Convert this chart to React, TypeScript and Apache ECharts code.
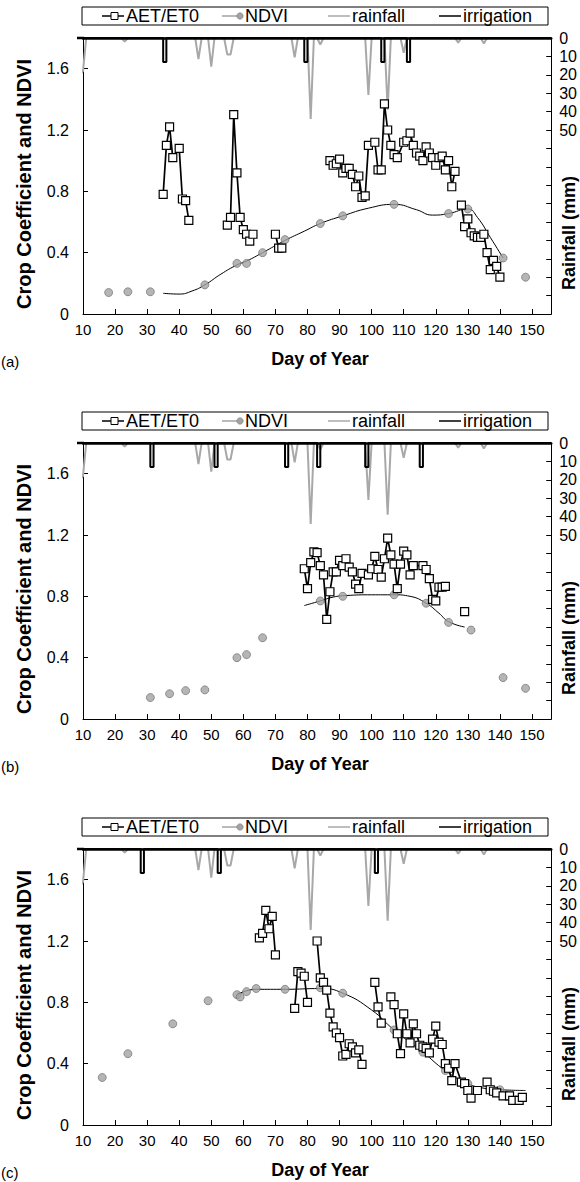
import React, { useEffect, useRef } from 'react';
import * as echarts from 'echarts';

const FONT = "'Liberation Sans', Arial, Helvetica, sans-serif";

// ---------- shared axis ticks ----------
const dayMin = 10;
const dayMax = 156;
const dayInterval = 10;
const coefMax = 1.8;
const coefInterval = 0.4;
const rainMax = 150;
const rainInterval = 10;
const rainLabelLimit = 50;
const irrigationDepth = 13;

// ---------- rainfall (mm), same weather for all three panels ----------
const rainfall: [number, number][] = [
  [9, 20], [10, 18], [11, 0],
  [22, 0], [23, 2], [24, 0],
  [45, 0], [46, 11.5], [47, 0],
  [49, 0], [50, 15.5], [51, 0],
  [54, 0], [55, 9], [56, 9], [57, 0],
  [75, 0], [76, 10.5], [77, 0],
  [80, 0], [81, 44], [82, 0],
  [83, 0], [84, 3.5], [85, 0],
  [98, 0], [99, 31], [100, 0],
  [104, 0], [105, 39], [106, 0],
  [109, 0], [110, 8], [111, 0],
  [126, 0], [127, 2.5], [128, 0],
  [134, 0], [135, 3], [136, 0],
  [156, 0],
];

// ---------- panel (a) ----------
const aetA: [number, number][][] = [
  [[35, 0.78], [36, 1.10], [37, 1.22], [38, 1.02], [40, 1.08], [41, 0.75], [42, 0.74], [43, 0.61]],
  [[55, 0.58], [56, 0.63], [57, 1.30], [58, 0.92], [59, 0.63], [60, 0.55], [61, 0.52], [62, 0.475], [63, 0.52]],
  [[70, 0.52], [71, 0.43], [72, 0.43]],
  [[87, 1.00], [88, 0.97], [89, 0.98], [90, 1.01], [91, 0.92], [92, 0.95], [93, 0.95], [94, 0.91], [95, 0.83],
   [96, 0.90], [97, 0.76], [98, 0.77], [99, 1.10], [101, 1.12], [102, 0.94], [103, 0.94], [104, 1.37], [105, 1.20],
   [106, 1.10], [107, 1.04], [108, 1.02], [110, 1.12], [111, 1.13], [112, 1.18], [113, 1.10], [114, 1.05],
   [115, 1.03], [116, 1.00], [117, 1.09], [118, 1.05], [119, 1.02], [120, 0.97], [121, 1.02], [122, 1.03],
   [123, 0.94], [124, 1.00], [125, 0.83], [126, 0.93]],
  [[128, 0.71], [129, 0.57], [130, 0.62], [131, 0.53], [132, 0.51], [133, 0.50], [134, 0.50], [135, 0.52],
   [136, 0.40], [137, 0.29], [138, 0.35], [139, 0.31], [140, 0.24]],
];
const ndviA: [number, number][] = [
  [18, 0.14], [24, 0.145], [31, 0.145], [48, 0.19], [58, 0.33], [61, 0.33], [66, 0.40], [73, 0.485],
  [84, 0.59], [91, 0.64], [107, 0.715], [124, 0.655], [130, 0.685], [141, 0.365], [148, 0.24],
];
const fitA: [number, number][] = [
  [35, 0.135], [40, 0.13], [44, 0.15], [48, 0.19], [53, 0.26], [58, 0.32], [61, 0.345], [66, 0.40],
  [73, 0.48], [79, 0.54], [84, 0.59], [91, 0.64], [99, 0.69], [107, 0.715], [114, 0.68], [119, 0.645],
  [124, 0.655], [130, 0.685], [133, 0.63], [137, 0.50], [141, 0.365],
];
const irrigationA = [35, 79, 103, 111];

// ---------- panel (b) ----------
const aetB: [number, number][][] = [
  [[79, 0.98], [80, 0.85], [81, 1.02], [82, 1.09], [83, 1.085], [84, 1.00], [85, 0.94], [86, 0.65], [87, 0.83],
   [88, 0.96], [89, 0.96], [90, 1.035], [91, 1.00], [92, 1.045], [93, 0.99], [94, 0.96], [95, 0.88], [96, 0.85],
   [97, 0.95], [99, 0.94], [100, 0.98], [101, 1.06], [102, 0.975], [103, 0.925], [104, 1.045], [105, 1.18],
   [106, 1.07], [107, 1.01], [108, 0.85], [109, 1.01], [110, 1.095], [111, 1.07], [112, 0.94], [113, 1.00],
   [116, 1.00], [117, 0.975], [118, 0.915], [119, 0.78], [120, 0.77], [121, 0.86], [122, 0.86], [123, 0.865]],
  [[129, 0.70]],
];
const ndviB: [number, number][] = [
  [31, 0.14], [37, 0.165], [42, 0.185], [48, 0.19], [58, 0.40], [61, 0.42], [66, 0.53], [84, 0.77],
  [91, 0.80], [107, 0.81], [117, 0.755], [124, 0.63], [131, 0.58], [141, 0.27], [148, 0.20],
];
const fitB: [number, number][] = [
  [79, 0.74], [84, 0.77], [88, 0.795], [92, 0.805], [100, 0.81], [107, 0.81], [112, 0.80], [117, 0.755],
  [121, 0.69], [124, 0.635], [129, 0.60],
];
const irrigationB = [31, 51, 73, 83, 98, 115];

// ---------- panel (c) ----------
const aetC: [number, number][][] = [
  [[65, 1.22], [66, 1.25], [67, 1.40], [68, 1.28], [69, 1.36], [70, 1.11]],
  [[76, 0.76], [77, 1.00], [78, 0.99], [79, 0.97], [80, 0.80]],
  [[83, 1.20], [84, 0.96], [85, 0.93], [86, 0.88], [87, 0.73], [88, 0.64], [89, 0.60], [90, 0.57], [91, 0.45],
   [92, 0.46], [93, 0.53], [94, 0.51], [95, 0.47], [96, 0.49], [97, 0.395]],
  [[101, 0.93], [102, 0.77], [103, 0.665]],
  [[106, 0.835], [107, 0.785], [108, 0.595], [109, 0.465], [110, 0.725], [111, 0.595], [112, 0.535], [113, 0.66],
   [114, 0.595], [115, 0.52], [116, 0.51], [117, 0.50], [118, 0.47], [119, 0.56], [120, 0.645], [121, 0.54],
   [122, 0.525], [123, 0.40], [124, 0.37], [125, 0.29], [126, 0.40], [128, 0.28], [129, 0.27], [130, 0.225],
   [131, 0.175], [133, 0.225]],
  [[136, 0.28], [137, 0.23], [138, 0.22], [139, 0.21], [141, 0.19], [143, 0.19], [144, 0.16], [146, 0.16], [147, 0.18]],
];
const ndviC: [number, number][] = [
  [16, 0.31], [24, 0.465], [38, 0.66], [49, 0.81], [58, 0.85], [59, 0.835], [61, 0.87], [64, 0.89],
  [73, 0.885], [84, 0.895], [91, 0.86], [107, 0.62], [116, 0.475], [123, 0.355], [130, 0.27], [140, 0.23],
];
const fitC: [number, number][] = [
  [58, 0.85], [64, 0.885], [73, 0.885], [84, 0.89], [91, 0.86], [100, 0.75], [107, 0.62], [116, 0.475],
  [123, 0.355], [130, 0.27], [135, 0.24], [140, 0.23], [148, 0.225],
];
const irrigationC = [28, 52, 101];

const panelLetters = ['(a)', '(b)', '(c)'];
const legendNames = ['AET/ET0', 'NDVI', 'rainfall', 'irrigation'];

const panels = [
  { aet: aetA, ndvi: ndviA, fit: fitA, irr: irrigationA },
  { aet: aetB, ndvi: ndviB, fit: fitB, irr: irrigationB },
  { aet: aetC, ndvi: ndviC, fit: fitC, irr: irrigationC },
];

// layout
const PLOT_TOPS = [38, 443, 849];
const PLOT_LEFT = 83;
const PLOT_W = 469;
const PLOT_H = 276;

function irrigationLine(days: number[]): [number, number][] {
  const out: [number, number][] = [[dayMin, 0]];
  days.forEach((d) => {
    out.push([d, 0], [d, irrigationDepth], [d + 1, irrigationDepth], [d + 1, 0]);
  });
  out.push([dayMax, 0]);
  return out;
}

function buildOption() {
  const grid: any[] = [];
  const xAxis: any[] = [];
  const yAxis: any[] = [];
  const series: any[] = [];
  const graphic: any[] = [];

  panels.forEach((p, i) => {
    const T = PLOT_TOPS[i];
    grid.push({ left: PLOT_LEFT, top: T, width: PLOT_W, height: PLOT_H, containLabel: false });

    xAxis.push({
      type: 'value', gridIndex: i, min: dayMin, max: dayMax, interval: dayInterval, position: 'bottom',
      axisLine: { show: true, onZero: false, lineStyle: { color: '#000', width: 1 } },
      axisTick: { show: true, inside: true, length: 5, lineStyle: { color: '#000' } },
      axisLabel: {
        color: '#000', fontSize: 15, fontFamily: FONT, margin: 8,
        formatter: (v: number) => (v % dayInterval === 0 && v <= 150 ? String(v) : ''),
      },
      splitLine: { show: false },
    });
    xAxis.push({
      type: 'value', gridIndex: i, min: dayMin, max: dayMax, position: 'top', z: 10,
      axisLine: { show: true, onZero: false, lineStyle: { color: '#000', width: 2.5 } },
      axisTick: { show: false }, axisLabel: { show: false }, splitLine: { show: false },
    });

    yAxis.push({
      type: 'value', gridIndex: i, min: 0, max: coefMax, interval: coefInterval, position: 'left',
      axisLine: { show: true, onZero: false, lineStyle: { color: '#000', width: 1 } },
      axisTick: { show: true, inside: true, length: 5, lineStyle: { color: '#000' } },
      axisLabel: {
        color: '#000', fontSize: 16, fontFamily: FONT, margin: 14,
        formatter: (v: number) => (v > 1.7 ? '' : v === 0 ? '0' : v.toFixed(1)),
      },
      splitLine: { show: false },
    });
    yAxis.push({
      type: 'value', gridIndex: i, min: 0, max: rainMax, interval: rainInterval, inverse: true, position: 'right',
      axisLine: { show: true, onZero: false, lineStyle: { color: '#000', width: 1 } },
      axisTick: { show: true, inside: true, length: 5, lineStyle: { color: '#000' } },
      axisLabel: {
        color: '#000', fontSize: 16, fontFamily: FONT, margin: 8,
        formatter: (v: number) => (v <= rainLabelLimit ? String(v) : ''),
      },
      splitLine: { show: false },
    });

    const xi = 2 * i;
    const yl = 2 * i;
    const yr = 2 * i + 1;

    series.push({
      type: 'line', name: 'rainfall', xAxisIndex: xi, yAxisIndex: yr, data: rainfall,
      symbol: 'none', lineStyle: { color: '#a8a8a8', width: 2 }, z: 2,
    });
    series.push({
      type: 'line', name: 'irrigation', xAxisIndex: xi, yAxisIndex: yr, data: irrigationLine(p.irr),
      symbol: 'none', lineStyle: { color: '#000', width: 2 }, z: 3,
    });
    series.push({
      type: 'line', name: 'NDVI fit', xAxisIndex: xi, yAxisIndex: yl, data: p.fit, smooth: true,
      symbol: 'none', lineStyle: { color: '#000', width: 1 }, z: 4,
    });
    series.push({
      type: 'scatter', name: 'NDVI', xAxisIndex: xi, yAxisIndex: yl, data: p.ndvi,
      symbol: 'circle', symbolSize: 8,
      itemStyle: { color: '#a3a3a3', borderColor: '#666', borderWidth: 0.8 }, z: 5,
    });
    p.aet.forEach((c) => {
      series.push({
        type: 'line', name: 'AET/ET0', xAxisIndex: xi, yAxisIndex: yl, data: c,
        symbol: 'rect', symbolSize: 8, showSymbol: true,
        itemStyle: { color: '#fff', borderColor: '#000', borderWidth: 1.2 },
        lineStyle: { color: '#000', width: 1.7 }, z: 6,
      });
    });

    // small extension of the top (rainfall zero) line beyond the left axis
    graphic.push({ type: 'line', shape: { x1: 77, y1: T, x2: 84, y2: T }, style: { stroke: '#000', lineWidth: 2.5 } });

    // legend box
    const ly = T - 22;
    graphic.push({
      type: 'rect', shape: { x: 82, y: T - 31, width: 466, height: 18 },
      style: { fill: '#fff', stroke: '#000', lineWidth: 1 },
    });
    const textStyle = (text: string, x: number) => ({
      type: 'text', x, y: ly,
      style: { text, fontSize: 18, fontFamily: FONT, fill: '#000', align: 'left', verticalAlign: 'middle' },
    });
    // AET/ET0
    graphic.push({ type: 'line', shape: { x1: 102, y1: ly, x2: 124, y2: ly }, style: { stroke: '#000', lineWidth: 1.5 } });
    graphic.push({ type: 'rect', shape: { x: 111, y: ly - 3.5, width: 7, height: 7 }, style: { fill: '#fff', stroke: '#000', lineWidth: 1 } });
    graphic.push(textStyle(legendNames[0], 126));
    // NDVI
    graphic.push({ type: 'line', shape: { x1: 222, y1: ly, x2: 240, y2: ly }, style: { stroke: '#a3a3a3', lineWidth: 1.5 } });
    graphic.push({ type: 'circle', shape: { cx: 240, cy: ly, r: 3.2 }, style: { fill: '#a3a3a3', stroke: '#777', lineWidth: 0.6 } });
    graphic.push(textStyle(legendNames[1], 245));
    // rainfall
    graphic.push({ type: 'line', shape: { x1: 328, y1: ly, x2: 350, y2: ly }, style: { stroke: '#a8a8a8', lineWidth: 1.5 } });
    graphic.push(textStyle(legendNames[2], 352));
    // irrigation
    graphic.push({ type: 'line', shape: { x1: 439, y1: ly, x2: 461, y2: ly }, style: { stroke: '#000', lineWidth: 1.5 } });
    graphic.push(textStyle(legendNames[3], 463));

    // axis titles
    graphic.push({
      type: 'text', x: 24, y: T + 146, rotation: Math.PI / 2,
      style: { text: 'Crop Coefficient and NDVI', fontSize: 20, fontWeight: 'bold', fontFamily: FONT, fill: '#000', align: 'center', verticalAlign: 'middle' },
    });
    graphic.push({
      type: 'text', x: 569, y: T + 195, rotation: Math.PI / 2,
      style: { text: 'Rainfall (mm)', fontSize: 18, fontWeight: 'bold', fontFamily: FONT, fill: '#000', align: 'center', verticalAlign: 'middle' },
    });
    graphic.push({
      type: 'text', x: 320, y: T + PLOT_H + 45,
      style: { text: 'Day of Year', fontSize: 18, fontWeight: 'bold', fontFamily: FONT, fill: '#000', align: 'center', verticalAlign: 'middle' },
    });
    graphic.push({
      type: 'text', x: 1, y: T + PLOT_H + 47,
      style: { text: panelLetters[i], fontSize: 15, fontFamily: FONT, fill: '#000', align: 'left', verticalAlign: 'middle' },
    });
  });

  return {
    animation: false,
    backgroundColor: '#fff',
    grid, xAxis, yAxis, series, graphic,
  };
}

export default function App() {
  const ref = useRef<HTMLDivElement>(null);
  useEffect(() => {
    if (!ref.current) return;
    const chart = echarts.init(ref.current, undefined, { renderer: 'svg' });
    chart.setOption(buildOption() as any);
    return () => chart.dispose();
  }, []);
  return (
    <div style={{ position: 'absolute', left: 0, top: 0, width: 580, height: 1182, background: '#fff' }}>
      <div ref={ref} style={{ width: 580, height: 1182 }} />
    </div>
  );
}
